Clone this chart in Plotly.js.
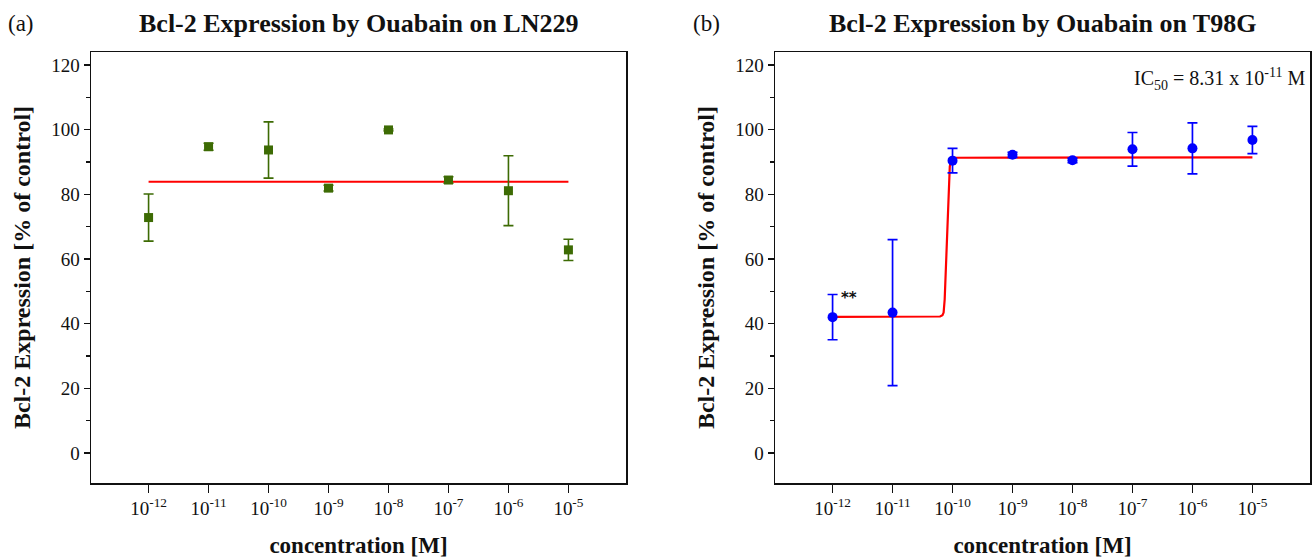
<!DOCTYPE html>
<html>
<head>
<meta charset="utf-8">
<script src="https://cdn.plot.ly/plotly-3.0.1.min.js"></script>
<style>html,body{margin:0;padding:0;background:#fff;}#chart{width:1312px;height:560px;}</style>
</head>
<body>
<div id="chart"></div>
<script>
// ---- data ----
const concentrations = [1e-12, 1e-11, 1e-10, 1e-9, 1e-8, 1e-7, 1e-6, 1e-5];
const tickLabels = ['10<sup>-12</sup>','10<sup>-11</sup>','10<sup>-10</sup>','10<sup>-9</sup>','10<sup>-8</sup>','10<sup>-7</sup>','10<sup>-6</sup>','10<sup>-5</sup>'];

// (a) LN229
const ln229Mean = [72.8, 94.7, 93.7, 81.9, 99.9, 84.4, 81.1, 62.8];
const ln229Err  = [7.3, 1.1, 8.7, 0.9, 0.3, 1.0, 10.8, 3.3];
const ln229FitX = [1e-12, 1e-5];
const ln229FitY = [83.9, 83.9];

// (b) T98G
const t98gMean = [42.0, 43.4, 90.4, 92.2, 90.5, 93.9, 94.2, 96.8];
const t98gErr  = [7.0, 22.6, 3.8, 0.8, 0.7, 5.2, 7.9, 4.2];
const t98gFitX = [1e-12, 6.2e-11, 6.8e-11, 7.1e-11, 7.4e-11, 7.6e-11, 8.1e-11, 8.6e-11, 9.0e-11, 9.4e-11, 1.0e-10, 1.1e-10, 1e-5];
const t98gFitY = [42.1, 42.2, 42.6, 43.4, 47.5, 53.5, 69.0, 84.4, 88.6, 90.1, 91.0, 91.3, 91.4];

const yTickVals = [0, 20, 40, 60, 80, 100, 120];

// ---- styling ----
const FONT = 'Liberation Serif, Times New Roman, serif';
const green = '#3d6b04';
const blue = '#0000ff';
const red = '#ff0000';

const traces = [
  {x: ln229FitX, y: ln229FitY, xaxis:'x', yaxis:'y', mode:'lines', line:{color:red, width:2}, hoverinfo:'skip'},
  {x: concentrations, y: ln229Mean, xaxis:'x', yaxis:'y', mode:'markers', type:'scatter',
   marker:{symbol:'square', size:9, color:green},
   error_y:{type:'data', array: ln229Err, visible:true, color:green, thickness:1.6, width:5}},
  {x: t98gFitX, y: t98gFitY, xaxis:'x2', yaxis:'y2', mode:'lines', line:{color:red, width:2.2}, hoverinfo:'skip'},
  {x: concentrations, y: t98gMean, xaxis:'x2', yaxis:'y2', mode:'markers', type:'scatter',
   marker:{symbol:'circle', size:10, color:blue},
   error_y:{type:'data', array: t98gErr, visible:true, color:blue, thickness:1.7, width:5}}
];

function xAxis(domain, anchor){
  return {
    domain: domain, anchor: anchor, type:'log', range:[-12.96, -4.04],
    tickmode:'array', tickvals: concentrations, ticktext: tickLabels,
    ticks:'outside', ticklen:8, tickwidth:1.4, tickcolor:'#111',
    showline:true, linecolor:'#111', linewidth:1.5, mirror:true,
    showgrid:false, zeroline:false,
    tickfont:{family:FONT, size:19, color:'#111'},
    title:{text:'<b>concentration [M]</b>', font:{family:FONT, size:23, color:'#111'}, standoff:18},
    automargin:false, fixedrange:true
  };
}
function yAxis(domain, anchor){
  return {
    domain: domain, anchor: anchor, range:[-9.3, 124],
    tickmode:'array', tickvals: yTickVals,
    ticks:'outside', ticklen:6, tickwidth:1.4, tickcolor:'#111',
    minor:{dtick:10, tick0:0, ticks:'outside', ticklen:4, tickcolor:'#111', tickwidth:1.2, showgrid:false},
    showline:true, linecolor:'#111', linewidth:1.5, mirror:true,
    showgrid:false, zeroline:false,
    tickfont:{family:FONT, size:19, color:'#111'},
    title:{text:'<b>Bcl-2 Expression [% of control]</b>', font:{family:FONT, size:24, color:'#111'}, standoff:14},
    automargin:false, fixedrange:true
  };
}

const yDom = [1 - 483/560, 1 - 52/560];
const layout = {
  width:1312, height:560,
  margin:{l:0, r:0, t:0, b:0},
  paper_bgcolor:'#fff', plot_bgcolor:'#fff',
  showlegend:false,
  xaxis: xAxis([91/1312, 626/1312], 'y'),
  yaxis: yAxis(yDom, 'x'),
  xaxis2: xAxis([775/1312, 1310/1312], 'y2'),
  yaxis2: yAxis(yDom, 'x2'),
  annotations:[
    {text:'(a)', xref:'paper', yref:'paper', x:6/1312, y:1-24/560, xanchor:'left', yanchor:'middle', showarrow:false, font:{family:FONT, size:23, color:'#111'}},
    {text:'(b)', xref:'paper', yref:'paper', x:691/1312, y:1-24/560, xanchor:'left', yanchor:'middle', showarrow:false, font:{family:FONT, size:23, color:'#111'}},
    {text:'<b>Bcl-2 Expression by Ouabain on LN229</b>', xref:'x domain', yref:'paper', x:0.5, y:1-24/560, xanchor:'center', yanchor:'middle', showarrow:false, font:{family:FONT, size:26, color:'#111'}},
    {text:'<b>Bcl-2 Expression by Ouabain on T98G</b>', xref:'x2 domain', yref:'paper', x:0.5, y:1-24/560, xanchor:'center', yanchor:'middle', showarrow:false, font:{family:FONT, size:26, color:'#111'}},
    {text:'IC<sub>50</sub> = 8.31 x 10<sup>-11</sup> M', xref:'x2 domain', yref:'y2', x:0.995, y:115.5, xanchor:'right', yanchor:'middle', showarrow:false, font:{family:FONT, size:20, color:'#111'}},
    {text:'<b>**</b>', xref:'x2', yref:'y2', x:-12, y:48, xshift:16, xanchor:'center', yanchor:'middle', showarrow:false, font:{family:'DejaVu Sans, sans-serif', size:15, color:'#111'}}
  ]
};

Plotly.newPlot('chart', traces, layout, {displayModeBar:false, staticPlot:true});
</script>
</body>
</html>
